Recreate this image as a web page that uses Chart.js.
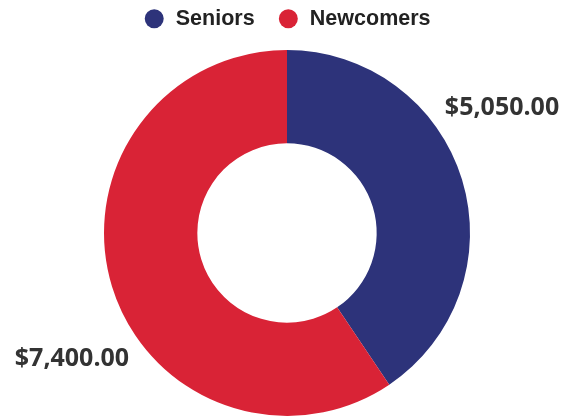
<!DOCTYPE html>
<html>
<head>
<meta charset="utf-8">
<script src="https://cdn.jsdelivr.net/npm/chart.js@4.4.1/dist/chart.umd.min.js"></script>
<style>
  html, body { margin: 0; padding: 0; background: #ffffff; }
  #wrap { width: 571px; height: 416px; position: relative; }
</style>
</head>
<body>
<div id="wrap"><canvas id="chart"></canvas></div>
<script>
// Budget split between the two groups
const categories = ['Seniors', 'Newcomers'];
const amounts = [5050, 7400];
const sliceColors = ['#2d337a', '#d92336'];

const money = v => '$' + v.toLocaleString('en-US', { minimumFractionDigits: 2, maximumFractionDigits: 2 });

// Leaves a little extra room under the legend
const legendGap = {
  id: 'legendGap',
  beforeInit(chart) {
    const fit = chart.legend.fit;
    chart.legend.fit = function () {
      fit.call(this);
      this.height += 10.5;
    };
  }
};

// Writes each slice's amount just outside the ring
const outsideLabels = {
  id: 'outsideLabels',
  afterDatasetsDraw(chart) {
    const ctx = chart.ctx;
    const meta = chart.getDatasetMeta(0);
    ctx.save();
    ctx.font = 'bold 25px "Open Sans"';
    ctx.fillStyle = '#333333';
    ctx.textAlign = 'center';
    ctx.textBaseline = 'middle';
    meta.data.forEach((arc, i) => {
      const p = arc.getProps(['x', 'y', 'startAngle', 'endAngle', 'outerRadius'], true);
      const mid = (p.startAngle + p.endAngle) / 2 - 0.232;
      const r = p.outerRadius + 66;
      ctx.fillText(money(amounts[i]), p.x + Math.cos(mid) * r, p.y + Math.sin(mid) * r);
    });
    ctx.restore();
  }
};

new Chart(document.getElementById('chart'), {
  type: 'doughnut',
  data: {
    labels: categories,
    datasets: [{
      data: amounts,
      backgroundColor: sliceColors,
      borderWidth: 0,
      hoverOffset: 0
    }]
  },
  options: {
    responsive: true,
    maintainAspectRatio: false,
    animation: false,
    cutout: '49%',
    layout: { padding: { left: 3, right: 0, top: -15, bottom: 0 } },
    plugins: {
      legend: {
        position: 'top',
        labels: {
          usePointStyle: true,
          pointStyle: 'circle',
          boxWidth: 25,
          boxHeight: 13.4,
          padding: 23,
          color: '#222222',
          font: { family: '"Liberation Sans", Arial, sans-serif', size: 21.5, weight: 'bold' }
        }
      },
      tooltip: { enabled: false }
    }
  },
  plugins: [legendGap, outsideLabels]
});
</script>
</body>
</html>
